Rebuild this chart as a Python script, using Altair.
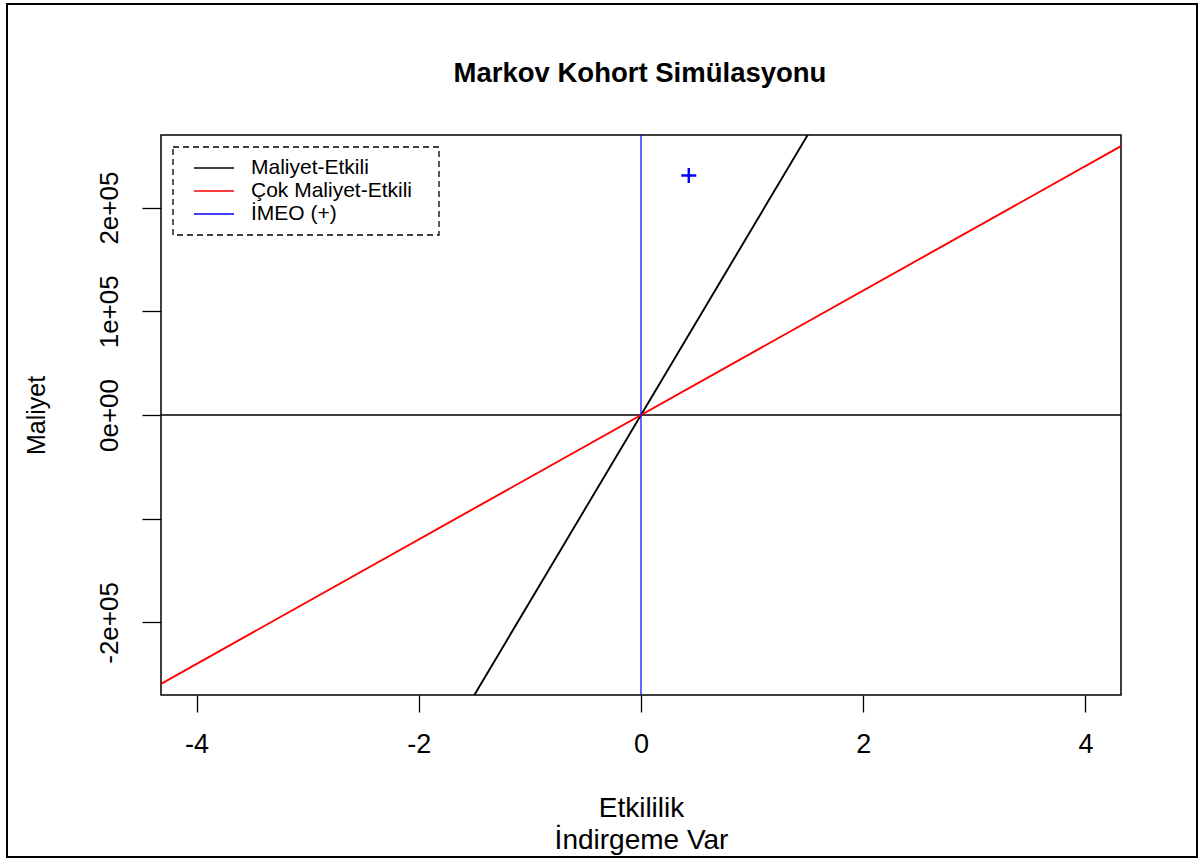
import altair as alt
import pandas as pd

FONT = "Liberation Sans"

chart_title = "Markov Kohort Simülasyonu"

# Series names and colours of the threshold lines / ICER point
series_names = ["Maliyet-Etkili", "Çok Maliyet-Etkili", "İMEO (+)"]
series_colors = ["#000000", "#FF0000", "#0000FF"]

# Willingness-to-pay thresholds (cost per unit of effect)
wtp_values = [180000, 60000]

# Incremental effect and cost of the intervention (ICER point)
icer_effect = [0.43]
icer_cost = [231000]

# Axis ranges and ticks
x_limits = [-4.32, 4.32]
y_limits = [-270000, 270000]
x_ticks = [-4, -2, 0, 2, 4]
y_ticks = [-200000, -100000, 0, 100000, 200000]
y_tick_labels = ["-2e+05", "", "0e+00", "1e+05", "2e+05"]

# Threshold lines through the origin, spanning the whole x range
line_rows = []
for name, wtp in zip(series_names[:2], wtp_values):
    for xv in x_limits:
        line_rows.append({"etkililik": xv, "maliyet": wtp * xv, "seri": name})
lines_df = pd.DataFrame(line_rows)

point_df = pd.DataFrame({"etkililik": icer_effect, "maliyet": icer_cost,
                         "seri": [series_names[2]]})
vline_df = pd.DataFrame({"etkililik": [0], "seri": [series_names[2]]})
hline_df = pd.DataFrame({"maliyet": [0]})
one_row = pd.DataFrame({"k": [0]})

y_label_expr = " : ".join(
    f"datum.value == {v} ? '{lab}'" for v, lab in zip(y_ticks, y_tick_labels)
) + " : ''"

x_axis = alt.Axis(
    values=x_ticks, labelExpr="'' + datum.value",
    title=["Etkililik", "İndirgeme Var"],
    domain=False, grid=False,
    tickSize=17, tickColor="black", tickWidth=1.3,
    labelFont=FONT, labelFontSize=27, labelColor="black",
    labelBaseline="alphabetic", labelPadding=40,
    labelFlush=False, labelOverlap=False,
    titleFont=FONT, titleFontSize=28, titleFontWeight="normal", titleColor="black",
    titleX=480, titleY=121, titleBaseline="alphabetic", titleAlign="center",
    titleLineHeight=32,
)
y_axis = alt.Axis(
    values=y_ticks, labelExpr=y_label_expr,
    title="Maliyet",
    domain=False, grid=False,
    tickSize=19, tickColor="black", tickWidth=1.3,
    labelFont=FONT, labelFontSize=26, labelColor="black",
    labelAngle=270, labelAlign="center", labelBaseline="alphabetic",
    labelPadding=25, labelFlush=False, labelOverlap=False,
    titleFont=FONT, titleFontSize=25, titleFontWeight="normal", titleColor="black",
    titleAngle=270, titleX=-112, titleY=280, titleBaseline="bottom", titleAlign="center",
)

X = alt.X("etkililik:Q", scale=alt.Scale(domain=x_limits, nice=False, zero=False), axis=x_axis)
Y = alt.Y("maliyet:Q", scale=alt.Scale(domain=y_limits, nice=False, zero=False), axis=y_axis)

# Legend symbols are short horizontal strokes drawn from a custom path
color = alt.Color(
    "seri:N",
    scale=alt.Scale(domain=series_names, range=series_colors),
    legend=alt.Legend(
        orient="none", legendX=42, legendY=22, title=None,
        symbolType="M-2,0H2", symbolSize=400, symbolStrokeWidth=1.5,
        symbolOffset=0, padding=0, rowPadding=2,
        labelFont=FONT, labelFontSize=21, labelColor="black",
        labelOffset=26, labelLimit=400,
    ),
)

hline = alt.Chart(hline_df).mark_rule(color="black", strokeWidth=1.3).encode(y=Y)

threshold_lines = alt.Chart(lines_df).mark_line(clip=True, strokeWidth=1.9).encode(
    x=X, y=Y, color=color, detail="seri:N"
)

vline = alt.Chart(vline_df).mark_rule(strokeWidth=1.2).encode(x=X, color=color)

icer_point = alt.Chart(point_df).mark_point(
    shape="M-1,0L1,0M0,-1L0,1", size=225, filled=False, strokeWidth=2.4, opacity=1
).encode(x=X, y=Y, color=color)

# Dashed frame around the legend
legend_box = alt.Chart(one_row).mark_rect(
    fillOpacity=0, stroke="black", strokeWidth=1.3, strokeDash=[6, 4]
).encode(x=alt.value(12), x2=alt.value(278), y=alt.value(12), y2=alt.value(100))

# Main title, centred above the plot frame
title_text = alt.Chart(one_row).mark_text(
    font=FONT, fontSize=27.5, fontWeight="bold", color="black",
    align="center", baseline="alphabetic",
).encode(x=alt.value(479), y=alt.value(-53), text=alt.value(chart_title))

# Border around the whole figure
outer_box = alt.Chart(one_row).mark_rect(
    fillOpacity=0, stroke="black", strokeWidth=2
).encode(x=alt.value(-154), x2=alt.value(1036), y=alt.value(-131), y2=alt.value(722))

chart = alt.layer(
    hline, threshold_lines, vline, icer_point, legend_box, title_text, outer_box
).properties(
    width=960, height=560,
    autosize=alt.AutoSizeParams(type="none"),
    padding={"left": 161, "top": 135, "right": 78, "bottom": 166},
).configure(
    background="white"
).configure_view(
    stroke="black", strokeWidth=1.5
)

chart.save("out.html", embed_options={"renderer": "svg", "actions": False})
